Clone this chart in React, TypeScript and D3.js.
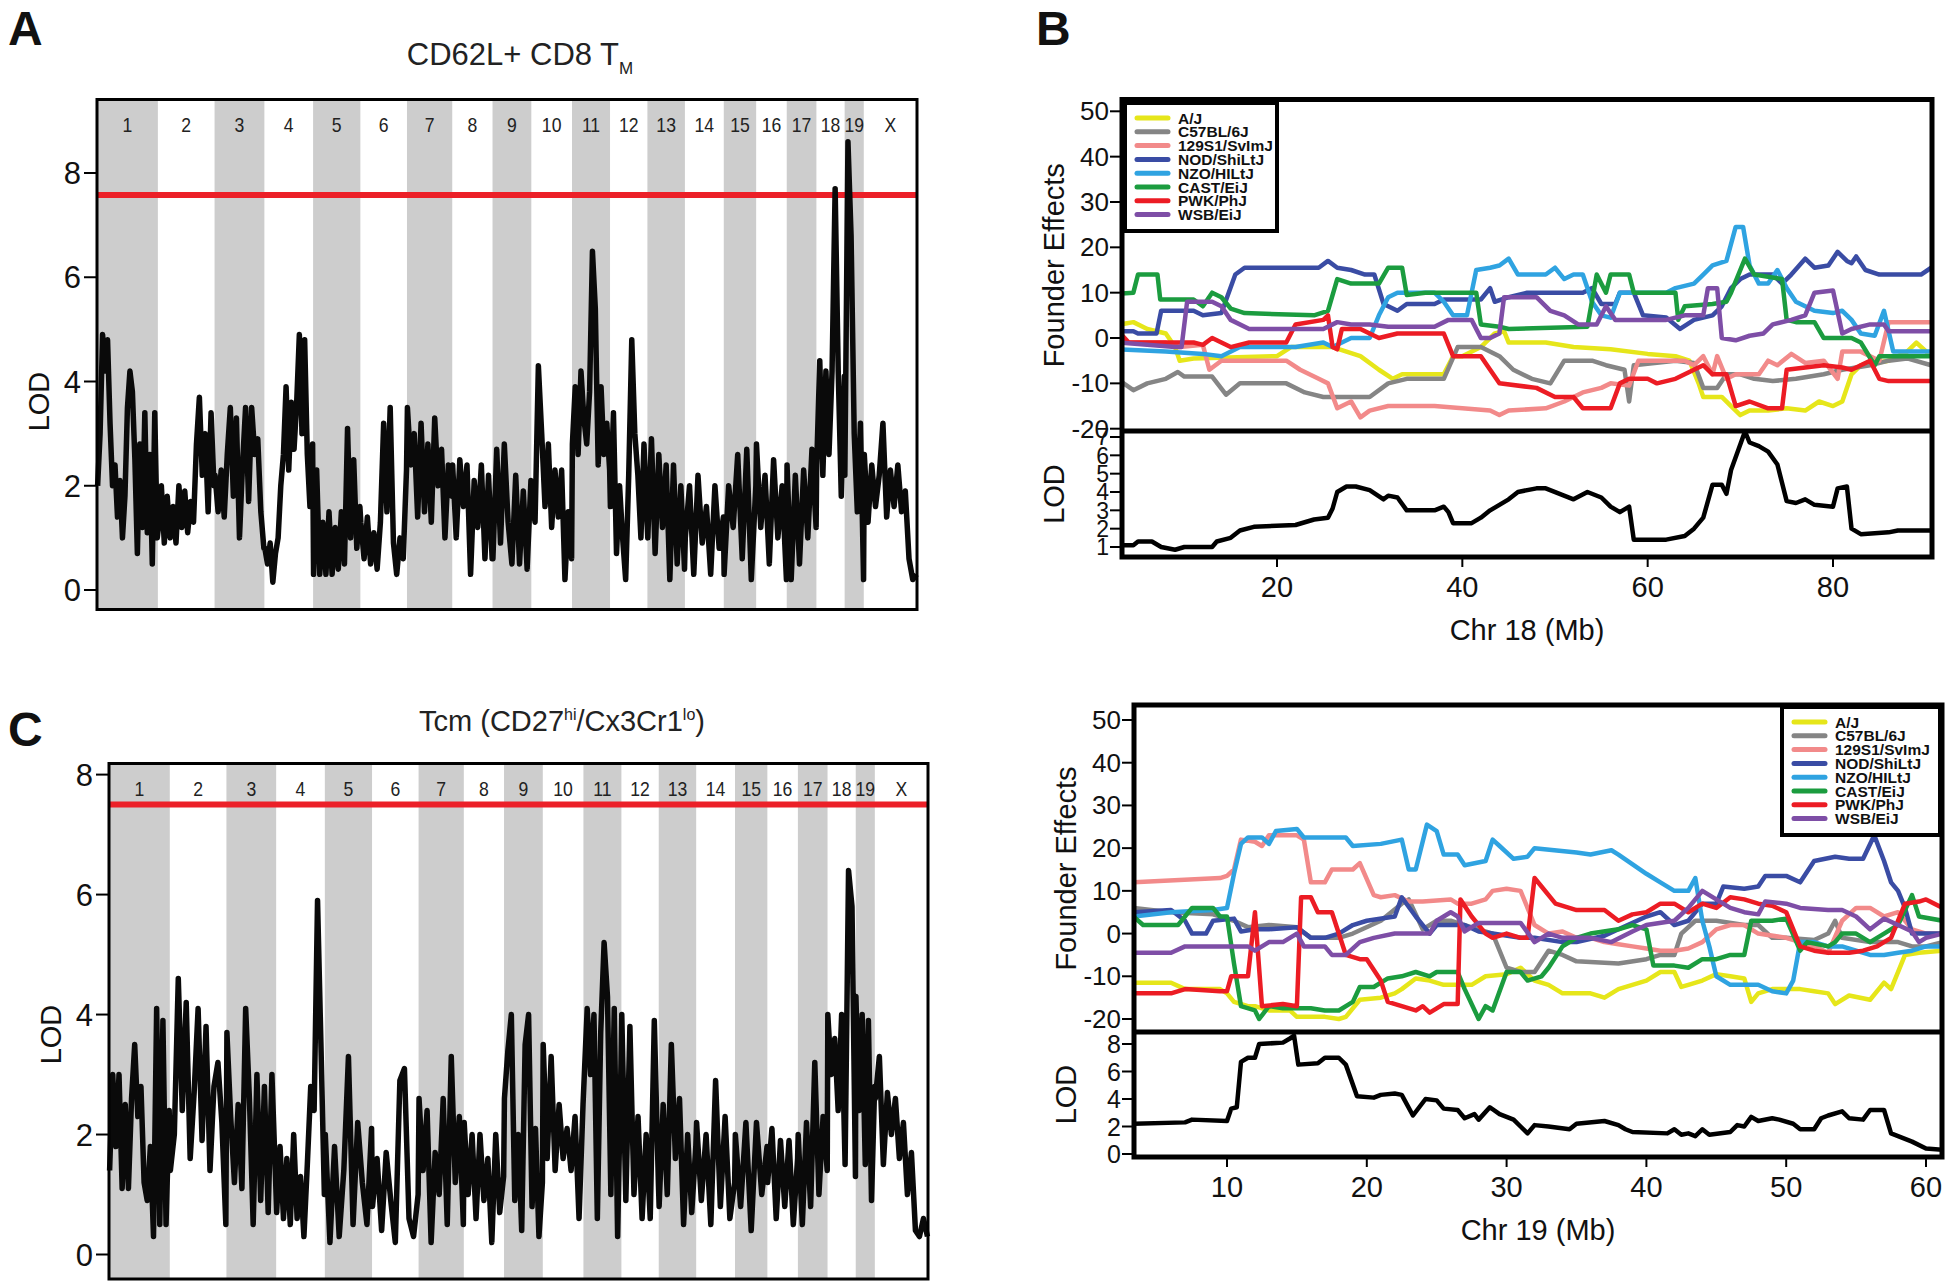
import React from 'react';
import * as d3 from 'd3';

// ---------- genome scans (A, C) ----------
const CHROMS = ['1','2','3','4','5','6','7','8','9','10','11','12','13','14','15','16','17','18','19','X'];
const CHROM_LEN = [195.5,182.1,160.0,156.5,151.8,149.7,145.4,129.4,124.6,130.7,122.1,120.1,120.4,124.9,104.0,98.2,95.3,90.7,61.4,171.0];
const LOD_TICKS = [0,2,4,6,8];

const LOD_A: number[][] = [
  [2.0,3.0,4.9,4.2,4.8,3.2,2.0,2.4,1.4,2.1,1.0,1.8,3.5,4.2,3.8,2.5,0.7,2.8,1.2,3.4,1.1,2.6,0.5,3.4,1.0],
  [1.2,2.0,0.9,1.8,1.0,1.6,0.9,2.0,1.2,1.9,1.1,1.7,1.3,2.8,3.7,2.2,3.0,1.5,3.4,2.0],
  [2.2,1.5,2.3,1.4,2.6,3.5,1.8,3.3,1.0,2.4,3.5,1.7,3.5,2.6,2.9,1.5,0.8],
  [0.8,0.5,0.9,0.15,0.7,1.0,2.0,2.6,3.9,2.3,3.6,2.7,3.6,4.9,3.0,4.8,2.6,1.6,2.8],
  [0.3,2.3,0.3,1.3,0.3,1.5,0.3,1.2,0.4,1.5,0.5,3.1,1.0,2.5,0.8,1.6],
  [1.3,0.6,1.4,0.5,1.1,0.4,1.3,3.2,1.5,3.5,0.9,0.3,1.0,0.6,2.3],
  [3.5,2.4,3.0,1.4,3.2,1.5,2.8,1.3,3.3,2.0,2.7,1.0,2.4,1.8],
  [2.4,1.0,2.5,1.6,2.4,0.3,2.1,1.2,2.4,0.6,2.2,0.6],
  [0.6,2.7,0.9,2.8,1.3,0.5,2.2,0.5,1.9,0.4,2.1],
  [1.8,1.3,4.3,3.0,1.6,2.8,1.2,2.3,1.4,2.3,0.2,1.5,0.6],
  [2.8,3.9,2.6,4.2,3.3,2.8,3.8,6.5,5.4,2.4,3.9,2.6,3.2,2.3],
  [1.6,3.4,0.7,2.0,1.0,0.2,2.2,4.8,3.0,2.2,1.0,2.8,1.3],
  [1.0,2.9,0.7,2.6,1.2,2.4,0.2,2.4,0.5,2.0,0.4],
  [1.0,2.0,0.3,2.2,0.9,1.6,0.3,2.0,0.8,1.4],
  [0.3,2.0,1.2,2.6,0.6,2.7,0.2,2.0],
  [2.8,1.2,2.2,0.5,2.5,1.0,2.0,0.2],
  [2.4,0.2,2.2,0.5,2.3,1.0,2.7,1.2],
  [2.4,4.4,2.2,4.2,2.6,4.2,7.7,4.2,1.8,4.1],
  [2.2,8.6,6.8,3.0,1.5,3.2,0.2],
  [2.6,1.3,2.4,1.6,2.2,3.2,1.4,2.3,1.6,2.4,1.5,1.9,0.6,0.2,0.3],
];

const LOD_C: number[][] = [
  [1.4,3.0,1.8,3.0,1.1,2.5,1.1,2.6,3.5,2.3,2.8,1.2,0.9,1.8,0.3,4.1,0.5,3.9,0.5,2.4],
  [1.4,2.0,4.6,2.4,4.2,1.6,2.7,4.1,1.9,3.8,1.4,2.8,3.2,2.2,0.5],
  [3.7,2.3,1.2,2.5,1.1,4.1,2.6,0.5,3.0,0.9,2.8,0.7,3.0,1.2],
  [0.7,1.8,0.6,1.6,0.5,2.0,0.6,1.3,0.3,1.5,2.8,2.4,5.9,3.5,1.0],
  [2.0,0.2,1.8,0.3,1.4,3.3,0.5,2.2,1.2,0.5,2.1],
  [0.8,1.6,0.4,1.7,0.9,0.2,2.9,3.1,0.6,0.3,1.0],
  [2.6,1.4,2.4,0.2,1.7,1.0,2.6,0.5,3.3,1.2,2.3,0.5],
  [2.2,1.0,2.0,0.6,2.0,0.9,1.6,0.2,2.0,0.7,1.3],
  [2.6,3.4,4.0,0.9,2.0,0.4,3.5,4.0,0.8,2.1,0.3,1.2],
  [3.5,1.6,3.3,1.4,2.5,1.6,2.1,1.4,2.3,0.6,2.5],
  [2.8,4.1,3.0,4.0,0.6,3.7,5.2,4.3,1.0,4.1,0.3,3.2],
  [4.0,0.9,3.8,1.0,2.3,0.6,2.0,0.6,3.9,1.2],
  [0.8,2.5,1.0,3.5,1.6,2.6,0.5,2.0,0.7,1.8],
  [2.2,0.9,2.0,0.5,2.9,0.8,2.3,0.6,1.2],
  [2.0,0.8,2.2,0.4,2.2,1.0,1.8],
  [1.2,2.1,0.6,1.9,0.8,1.9,0.5,1.6],
  [2.0,0.5,2.2,0.8,3.2,1.0,2.3,1.4],
  [4.0,3.0,3.6,2.4,4.0,1.5,6.4,5.8,1.3],
  [4.3,2.4,4.0,1.5,3.9,0.9,2.8],
  [2.6,3.3,1.5,2.7,2.0,2.6,1.6,2.2,1.0,1.7,0.4,0.3,0.6,0.3],
];
const THRESH_A = 7.58;
const THRESH_C = 7.5;

// ---------- founder effects (B) ----------
const FOUNDERS = ['A/J','C57BL/6J','129S1/SvImJ','NOD/ShiLtJ','NZO/HILtJ','CAST/EiJ','PWK/PhJ','WSB/EiJ'];
const FOUNDER_COLORS = ['#e6e61a','#858585','#f28a8a','#3a4ca4','#2fa3e1','#1b9c3f','#ec1c24','#7e4ea6'];
const FOUNDER_TICKS = [-20,-10,0,10,20,30,40,50];

type P = [number, number];

const CHR18_AJ: P[] = [[3.1,3],[4.5,3.5],[6,2],[8,1],[9,-2],[9.5,-5],[11,-4.5],[20,-4],[21.5,-2],[26,-2],[27.5,-3],[29,-4],[31,-7],[32.5,-9],[33.5,-8],[38,-8],[39,-4],[40,-4],[42,-2],[43.5,1],[44.5,1.5],[45,-1],[49,-1],[52,-2],[56,-2.5],[60,-3.5],[63,-4],[64.5,-5],[65.5,-10],[66,-13],[68,-13],[69,-15],[70,-17],[71,-16],[73,-16],[75,-15.5],[77,-16],[78.5,-14],[80,-15],[81,-14],[82,-8],[83,-6],[86,-5],[88,-3],[89,-1],[90.6,-4]];
const CHR18_B6: P[] = [[3.1,-9.5],[4.5,-11.5],[6,-10],[8,-9],[9.3,-7.5],[10,-8.5],[13,-8.5],[14.5,-12.5],[16,-10],[21,-10],[23,-12],[25,-13],[30,-13],[32,-10],[34,-9],[38,-9],[39.5,-2],[42,-2],[44,-4],[45.5,-7],[47.5,-9],[49.5,-10],[51,-5],[54,-5],[55.5,-6],[57.5,-7],[58,-14],[58.5,-6],[63,-5],[65,-5.5],[66,-11],[67.5,-11],[68.5,-8],[70,-8],[71.5,-9],[73.5,-9.5],[76,-9],[79,-8],[81,-7],[84,-6],[86,-5],[88,-4.5],[90.6,-6]];
const CHR18_129: P[] = [[3.1,-1],[8,-1],[9.5,-2],[12,-1.5],[12.7,-7],[14,-5],[18,-5],[21,-5],[22.5,-7],[24.5,-9],[25.5,-10],[26.5,-15.5],[28,-14],[29,-17.5],[30,-16],[32,-15],[37,-15],[43,-16],[44,-17],[45,-16],[49,-15.5],[51,-14],[53,-12],[55,-11],[56,-10],[58,-10.5],[59,-5],[64,-5],[65,-6],[66,-4],[67,-8],[67.5,-4],[68.5,-9],[69.5,-8],[72,-8],[73,-5],[74,-6],[75.5,-3.5],[77,-5.5],[79,-5],[80.5,-9],[81,-3],[83,-3],[85,-5],[86,3.5],[90.6,3.5]];
const CHR18_NOD: P[] = [[3.1,1.5],[4.5,1.5],[5,1],[7,1],[7.5,6],[11,6],[12,5],[14,5.5],[15.5,14],[16.5,15.5],[24.5,15.5],[25.5,17],[26.5,15.5],[28,15],[29.5,14],[30.5,14],[31.5,7.5],[33,6],[34,7.5],[37,7.5],[38,8.5],[42,8.5],[43,11],[43.5,8],[45,9],[47,10],[53,10],[54,11],[55,7.5],[56.5,7.5],[57,10],[58.5,10],[59.5,5],[62,4.5],[63.5,2],[65,4],[67,5],[68,7],[69,11],[70,13],[71,14],[73.5,14],[74.5,12],[75.5,14],[77,17.5],[78,15.5],[79.5,16],[80.5,19],[81.5,17],[82,16.5],[82.5,18],[83.5,15],[85,14],[89.5,14],[90.6,15.5]];
const CHR18_NZO: P[] = [[3.1,-2.5],[8,-3],[12,-3.5],[14,-4],[16,-2],[22,-2],[25,-1],[26,-2],[28,0],[30,0],[31,5],[32,9],[33,10],[37,10],[38,8],[39,5],[40.5,5],[41.5,15],[43,15.5],[44,16],[45,17.5],[46,14],[49,14],[50,15.5],[51,13],[52,14],[53,14],[54,8],[55,5],[56,4.5],[57,10],[62,10],[63,11],[65,12],[66,14],[67,16],[68.5,17],[69.5,24.5],[70.3,24.5],[71,16],[72,12],[73,12],[74,15],[75,11],[76,8],[78,6],[80,5.5],[81,6],[82,4],[83,1],[84.5,0.5],[85.5,6],[86.5,-3],[90.6,-3]];
const CHR18_CAST: P[] = [[3.1,9.8],[4.5,10],[5,14],[7.1,14],[7.4,8.5],[11,8.5],[12,7],[13,10],[14,9],[15,6.5],[16.5,5.5],[24,5],[25.5,6],[26.5,13],[28,12],[31,12],[32,15.5],[33.5,15.5],[34,9.5],[36,10],[41.5,10],[42,3],[44,2.5],[45,2],[53.5,2.5],[54.5,14],[55.5,10],[56,14],[58,14],[58.5,10],[63,10],[63.3,4],[64,7],[67,7.5],[68.5,8],[69,10],[70.5,17.5],[71.5,14],[74.5,13],[75,4],[76,3.5],[78,3.5],[79,0],[82,0],[83,-1],[84.5,-6],[85,-4],[90.6,-4]];
const CHR18_PWK: P[] = [[3.1,1],[4,-1],[8,-1],[11,-1],[12,-1.5],[13,0],[14,-1],[15,-2],[17,-1],[21,-1],[22,3],[25,4],[25.5,5],[26,-2],[26.5,-2.5],[27,2],[29,2],[31,0],[33,1],[38,1],[39,-4],[42,-4],[43,-7],[44,-10],[48,-11],[50,-13],[52,-13],[53,-15.5],[56,-15.5],[57,-10],[58,-9],[60,-9],[61,-10],[63,-9],[64,-8],[66,-6],[67,-8],[68.5,-8],[69.5,-15],[71,-14],[73,-15.5],[74.5,-15.5],[75,-7],[77,-6.5],[79,-6],[81,-6.5],[82,-7],[84,-5],[85,-9],[86,-9.5],[90.6,-9.5]];
const CHR18_WSB: P[] = [[3.1,-1],[6,-1.5],[9,-2],[9.7,-2],[10.3,8],[13,8],[14,7],[15,4],[17,2],[25,2],[26.5,3.5],[28,3],[30,3],[32,2.5],[37,2.5],[38.5,4],[41,4],[42,0],[43,0],[44,1],[44.5,9],[48,9],[49.5,6],[51,5],[52.5,3],[54.5,3],[55.5,7],[56.5,4],[62,4],[64,5],[66,5],[66.5,11],[67.5,11],[68,0],[69.5,-0.5],[71,0.5],[72.5,1],[73.5,3],[75.5,4],[77,5],[78,10],[80,10.5],[81,1],[82,2],[84,3],[85.5,3],[86,1.5],[90.6,1.5]];
const CHR18_LOD: P[] = [[3.1,1.1],[4.5,1.1],[5,1.3],[6.5,1.3],[7.5,1.0],[9,0.85],[10,1.0],[13,1.0],[13.5,1.3],[15,1.5],[16,1.9],[17.5,2.1],[22,2.2],[24,2.5],[25.5,2.6],[26,3.1],[26.5,4.0],[27.5,4.3],[28.5,4.3],[30,4.1],[31.5,3.6],[32,3.8],[33,3.7],[34,3.0],[37,3.0],[38,3.2],[38.5,2.9],[39,2.3],[41,2.3],[42,2.6],[43,3.0],[44,3.3],[45,3.6],[46,4.0],[48,4.2],[49,4.2],[52,3.6],[53.5,4.0],[55,3.7],[56,3.2],[57,2.9],[58,3.2],[58.5,1.4],[62,1.4],[64,1.6],[65,2.0],[66,2.6],[67,4.4],[68,4.4],[68.5,3.9],[69,5.2],[70.5,7.3],[71,6.7],[72,6.5],[73,6.2],[74,5.5],[75,3.5],[76,3.4],[77,3.6],[78,3.3],[80,3.2],[80.5,4.2],[81.5,4.3],[82,2.0],[83,1.7],[86,1.8],[87,1.9],[90.6,1.9]];

const CHR19_AJ: P[] = [[3.3,-11.5],[6,-11.5],[7,-13],[9.5,-13],[10,-14],[10.5,-16],[11.5,-17],[12,-17],[13,-18],[14.5,-18],[15,-19.5],[17,-19.5],[18,-20],[18.5,-19.5],[19.5,-15.5],[21,-15],[22,-14],[22.5,-13],[23.5,-10.5],[24.5,-11],[25.5,-12],[27.5,-12],[28.5,-10],[30,-9.5],[31,-8],[32,-11],[33,-12],[34,-14],[36,-14],[37,-15],[38,-13],[39,-12],[40,-11],[41,-9],[42,-9],[42.5,-12.5],[43,-12],[44,-11],[45,-9.5],[46,-10],[47,-10.5],[47.5,-16],[48,-14],[49,-13],[51,-13],[52,-13.5],[53,-14],[53.5,-16.5],[54.5,-14.5],[56,-15.5],[57,-11.5],[57.5,-13],[58.5,-5],[59.5,-4.5],[61.2,-4]];
const CHR19_B6: P[] = [[3.3,6],[6,5],[9,4.5],[10.5,3],[11.5,1.5],[13,2],[15,1.5],[16,-1],[18,-1],[19,0],[21,3],[22.5,7],[23,8],[24,1],[25,3],[26,3],[27,2],[28,1],[29,0],[30,-8],[31,-9],[32,-9],[33,-4],[34,-5],[35,-6.5],[38,-7],[40,-6],[41,-5],[42,-5],[42.5,0],[43.5,3],[45,3],[47,2],[48,2],[49,-1],[50,-1],[52,-1.5],[53,0],[53.5,3],[54,-1],[56,-2],[58,-2],[59,-3],[60,-3],[61.2,-2]];
const CHR19_129: P[] = [[3.3,12],[9.5,13],[10,13.5],[10.5,15],[11,22],[12,21.5],[12.5,20.5],[13,23],[15,23],[15.5,22],[16,12],[17,12],[17.5,15],[19,15],[19.5,16.5],[20.5,9],[21,8.5],[22,9],[23,7.5],[24,7.5],[26,8],[26.5,7],[27.5,7],[28.5,8],[29,10],[30,10.5],[31,10],[32,2],[33,0],[34,0.5],[35,-1],[36,-1],[37,-2],[38,-2.5],[39,-3],[40,-3.5],[41,-4],[42,-4],[43,-3.5],[44,-2],[45,1],[46,2],[47,2],[48,0],[50,-1],[51,-2],[52,-3],[53,-4.5],[54,3],[55,6],[56,6],[57,4],[58,5],[59,1],[60,0],[61.2,0]];
const CHR19_NOD: P[] = [[3.3,5],[6,5.5],[7,3],[7.5,0],[8.5,0],[9,3],[10.5,3.5],[11,0.5],[12,1],[13,1],[15,1.5],[16,-1],[17,-1],[18,0],[19,2],[20,3],[22,4],[22.5,8.5],[23.5,4],[24.5,0],[25,2],[27,2],[28,0.5],[29,0],[31,-1],[32,-1],[34,-2],[35,-2],[37,-0.5],[38,1],[40,4],[41,5],[42,2],[43,3],[44,7],[45,7],[45.5,11],[47,10.5],[48,11],[48.5,13.5],[50,13.5],[51,12],[52,17],[53.5,18],[54.5,17.5],[55.5,17.5],[56.3,23],[57,17],[57.5,12],[58,10],[58.5,6],[59,0],[61.2,0]];
const CHR19_NZO: P[] = [[3.3,4],[6,5],[9,5.5],[10,6],[10.5,14],[11,21],[11.5,22.5],[12.5,22.5],[13,21],[13.5,24],[15,24.5],[15.5,22.5],[18.5,22.5],[19,20.5],[21,21],[22.5,22],[23,15],[23.5,15],[24.3,25.5],[25,24],[25.5,18.5],[26.5,18.5],[27,16],[28.5,17],[29,22],[29.5,20.5],[30.5,17.5],[31.5,18],[32,20],[35,19],[36,18.5],[37.5,19.5],[38,18.5],[40,14],[41,12],[42,10],[43,10],[43.5,13],[44,3],[44.5,-3],[45,-10],[46,-12],[48,-12],[49,-13.5],[50,-14],[50.5,-11],[51,-2],[52,-2],[53,-3],[54,-3],[55,-4],[56,-5],[57,-5],[58,-4.5],[59,-4],[60,-3],[61.2,-3]];
const CHR19_CAST: P[] = [[3.3,4],[4,2],[6.5,2],[7.5,6],[9,6],[9.5,4],[10,4],[10.5,-7],[11,-17],[12,-18],[12.3,-20],[13,-17],[14,-17.5],[16,-17.5],[17,-18],[18,-18],[19,-16],[19.5,-12.5],[20.5,-12.5],[21.5,-10.5],[22.5,-10],[23.5,-9],[24.5,-10],[25,-9],[26.5,-9],[27,-13],[28,-20],[28.5,-17],[29,-18],[30,-9],[31,-9],[31.5,-11],[32.5,-10],[33,-8],[34,-3],[35,-1],[36,0],[38,1],[39,2],[40,1],[40.5,-7.5],[42,-7.5],[43,-8],[44,-6],[45,-6],[46,-5],[47,-5],[47.5,3],[49,3],[50,3.5],[51,-4],[51.5,-2],[53,-3],[53.5,-2],[54,0],[55,0],[56,-2],[57,0],[58,2],[59,9],[59.5,4],[61.2,3]];
const CHR19_PWK: P[] = [[3.3,-14],[6,-14],[7,-13],[9.5,-13.5],[10,-13.5],[10.3,-10],[11.5,-10],[12,5],[12.5,-17],[14,-16.5],[15,-17],[15.3,8.5],[16,8.5],[16.5,5],[17.5,5],[18,0],[18.5,-5],[19.5,-6],[20,-6],[21,-11],[21.5,-16],[22.5,-17],[23.5,-18],[24,-17],[24.5,-18.5],[25.5,-16.5],[26.5,-16.5],[26.7,8],[27.5,4],[28.5,0],[29,-1],[30,0],[31,-1],[31.5,-1],[32,13],[33.5,7],[35,5.5],[37,5.5],[38,3],[39,4.5],[40,5],[41,7],[42,7],[43,5],[44,7],[45,6],[46,8.5],[47,8],[48,7],[49,6.5],[50,5],[51,-3],[52,-4],[53,-4.5],[54.5,-4.5],[55.5,-4],[56.5,-3],[57.5,-1],[58.5,7],[59.5,7.5],[60,8],[61.2,6]];
const CHR19_WSB: P[] = [[3.3,-4.5],[6,-4.5],[7,-3],[9,-3],[11.5,-3],[12,-4],[13,-2],[14,-2],[15,0],[15.5,-3],[17,-3],[17.5,-5],[18.5,-5],[19.5,-2],[20.5,-1],[22,0],[24.5,0],[25,3],[26,5],[26.5,4],[27,0.5],[28,2.5],[31,2.5],[32,-2],[33,0],[34,-1],[36,-1],[37.5,-2],[39,0.5],[40,2],[42,3],[43,6],[44,10],[45,8],[46,6],[47,5],[48,4.5],[48.5,7.5],[50,7],[51,6],[53,5.5],[54,5.5],[55,4],[56,1],[57,3.5],[58,2],[59,0.5],[59.5,-2],[60,-1],[61.2,0]];
const CHR19_LOD: P[] = [[3.3,2.2],[7,2.3],[7.5,2.5],[10,2.4],[10.3,3.3],[10.7,3.4],[11,6.7],[11.5,7.0],[12,7.0],[12.3,8.0],[14,8.1],[14.5,8.4],[14.8,8.6],[15.1,6.5],[16.5,6.6],[17,7.0],[18,7.0],[18.5,6.5],[19.3,4.2],[20.5,4.1],[21,4.3],[22,4.4],[22.5,4.3],[23.3,2.8],[24.2,4.0],[25,3.9],[25.5,3.3],[26.5,3.2],[27,2.6],[27.7,2.9],[28,2.5],[28.8,3.4],[29.5,2.9],[30.5,2.5],[31,2.0],[31.5,1.5],[32,2.1],[33,2.0],[34.5,1.8],[35,2.2],[37,2.4],[38,2.1],[38.5,1.8],[39,1.6],[41.5,1.5],[42,1.8],[42.5,1.4],[43,1.5],[43.5,1.3],[44,1.8],[44.5,1.4],[46,1.6],[46.5,2.1],[47,2.0],[47.5,2.7],[48,2.4],[49,2.6],[49.5,2.5],[50.5,2.2],[51,1.8],[52,1.8],[52.5,2.6],[53,2.8],[54,3.1],[54.5,2.6],[55.5,2.5],[56,3.2],[57,3.2],[57.5,1.5],[58,1.3],[59,0.9],[60,0.4],[61.2,0.3]];

const CHR18_SERIES = [CHR18_AJ, CHR18_B6, CHR18_129, CHR18_NOD, CHR18_NZO, CHR18_CAST, CHR18_PWK, CHR18_WSB];
const CHR19_SERIES = [CHR19_AJ, CHR19_B6, CHR19_129, CHR19_NOD, CHR19_NZO, CHR19_CAST, CHR19_PWK, CHR19_WSB];
const CHR18_X_TICKS = [20,40,60,80];
const CHR19_X_TICKS = [10,20,30,40,50,60];
const CHR18_LOD_TICKS = [1,2,3,4,5,6,7];
const CHR19_LOD_TICKS = [0,2,4,6,8];

const FONT = '"Liberation Sans", Arial, sans-serif';

type ScanProps = { left: number; right: number; top: number; bottom: number; y0: number; y8: number; values: number[][]; thresh: number; };

function GenomeScan({ left, right, top, bottom, y0, y8, values, thresh }: ScanProps) {
  const total = d3.sum(CHROM_LEN);
  const starts = CHROM_LEN.map((_, i) => d3.sum(CHROM_LEN.slice(0, i)));
  const x = d3.scaleLinear().domain([0, total]).range([left, right]);
  const y = d3.scaleLinear().domain([0, 8]).range([y0, y8]);
  const pts: [number, number][] = [];
  values.forEach((vals, c) => {
    const n = vals.length;
    vals.forEach((v, i) => {
      pts.push([starts[c] + CHROM_LEN[c] * (0.01 + 0.98 * i / (n - 1)), v]);
    });
  });
  const line = d3.line<[number, number]>().x(d => x(d[0])).y(d => y(d[1]));
  return (
    <g>
      {CHROMS.map((c, i) => (
        <g key={c}>
          {i % 2 === 0 && (
            <rect x={x(starts[i])} y={top} width={x(starts[i] + CHROM_LEN[i]) - x(starts[i])} height={bottom - top} fill="#cdcdcd" />
          )}
          <text x={(x(starts[i]) + x(starts[i] + CHROM_LEN[i])) / 2} y={top + 33} textAnchor="middle" fontSize={20} fontFamily={FONT} fill="#222" transform={`translate(${((x(starts[i]) + x(starts[i] + CHROM_LEN[i])) / 2) * 0.12},0) scale(0.88,1)`}>{c}</text>
        </g>
      ))}
      <line x1={left} x2={right} y1={y(thresh)} y2={y(thresh)} stroke="#ec2028" strokeWidth={6} />
      <path d={line(pts) || ''} fill="none" stroke="#0a0a0a" strokeWidth={5.5} strokeLinejoin="round" />
      <rect x={left} y={top} width={right - left} height={bottom - top} fill="none" stroke="#000" strokeWidth={3} />
      {LOD_TICKS.map(t => (
        <g key={t}>
          <line x1={left - 13} x2={left} y1={y(t)} y2={y(t)} stroke="#000" strokeWidth={2} />
          <text x={left - 16} y={y(t) + 11} textAnchor="end" fontSize={31} fontFamily={FONT} fill="#111">{t}</text>
        </g>
      ))}
      <text transform={`translate(${left - 48},${(y(0) + y(8)) / 2 + 20}) rotate(-90)`} textAnchor="middle" fontSize={29} fontFamily={FONT} fill="#111">LOD</text>
    </g>
  );
}

type FounderProps = {
  left: number; right: number; top: number; mid: number; bottom: number;
  xd: [number, number]; xr: [number, number];
  fy: [number, number]; ly: [number, number]; lyd: [number, number];
  series: P[][]; lod: P[]; xTicks: number[]; lodTicks: number[]; lodFont: number;
  legendX: number; legendY: number; legendW: number; legendH: number;
  xLabel: string; clipId: string;
};

function FounderPanel(p: FounderProps) {
  const x = d3.scaleLinear().domain(p.xd).range(p.xr);
  const yF = d3.scaleLinear().domain([-20, 50]).range(p.fy);
  const yL = d3.scaleLinear().domain(p.lyd).range(p.ly);
  const lineF = d3.line<P>().x(d => x(d[0])).y(d => yF(d[1]));
  const lineL = d3.line<P>().x(d => x(d[0])).y(d => yL(d[1]));
  return (
    <g>
      <defs>
        <clipPath id={p.clipId + 'f'}><rect x={p.left} y={p.top} width={p.right - p.left} height={p.mid - p.top} /></clipPath>
        <clipPath id={p.clipId + 'l'}><rect x={p.left} y={p.mid} width={p.right - p.left} height={p.bottom - p.mid} /></clipPath>
      </defs>
      <g clipPath={`url(#${p.clipId}f)`}>
        {p.series.map((s, i) => (
          <path key={i} d={lineF(s) || ''} fill="none" stroke={FOUNDER_COLORS[i]} strokeWidth={4.5} strokeLinejoin="round" />
        ))}
      </g>
      <g clipPath={`url(#${p.clipId}l)`}>
        <path d={lineL(p.lod) || ''} fill="none" stroke="#000" strokeWidth={4.5} strokeLinejoin="round" />
      </g>
      {/* legend */}
      <rect x={p.legendX} y={p.legendY} width={p.legendW} height={p.legendH} fill="#fff" stroke="#000" strokeWidth={4} />
      {FOUNDERS.map((f, i) => {
        const yy = p.legendY + 15 + i * 13.8;
        return (
          <g key={f}>
            <line x1={p.legendX + 12} x2={p.legendX + 43} y1={yy} y2={yy} stroke={FOUNDER_COLORS[i]} strokeWidth={5} strokeLinecap="round" />
            <text x={p.legendX + 53} y={yy + 5.5} fontSize={15.5} fontWeight="bold" fontFamily={FONT} fill="#111">{f}</text>
          </g>
        );
      })}
      {/* frames */}
      <rect x={p.left} y={p.top} width={p.right - p.left} height={p.bottom - p.top} fill="none" stroke="#000" strokeWidth={5} />
      <line x1={p.left} x2={p.right} y1={p.mid} y2={p.mid} stroke="#000" strokeWidth={5} />
      {/* y ticks founder */}
      {FOUNDER_TICKS.map(t => (
        <g key={t}>
          <line x1={p.left - 12} x2={p.left} y1={yF(t)} y2={yF(t)} stroke="#000" strokeWidth={2} />
          <text x={p.left - 13} y={yF(t) + 9} textAnchor="end" fontSize={26} fontFamily={FONT} fill="#111">{t}</text>
        </g>
      ))}
      {p.lodTicks.map(t => (
        <g key={t}>
          <line x1={p.left - 12} x2={p.left} y1={yL(t)} y2={yL(t)} stroke="#000" strokeWidth={2} />
          <text x={p.left - 13} y={yL(t) + p.lodFont * 0.36} textAnchor="end" fontSize={p.lodFont} fontFamily={FONT} fill="#111">{t}</text>
        </g>
      ))}
      {p.xTicks.map(t => (
        <g key={t}>
          <line x1={x(t)} x2={x(t)} y1={p.bottom} y2={p.bottom + 10} stroke="#000" strokeWidth={2} />
          <text x={x(t)} y={p.bottom + 40} textAnchor="middle" fontSize={29} fontFamily={FONT} fill="#111">{t}</text>
        </g>
      ))}
      <text x={(p.left + p.right) / 2} y={p.bottom + 83} textAnchor="middle" fontSize={29} fontFamily={FONT} fill="#111">{p.xLabel}</text>
      <text transform={`translate(${p.left - 58},${(p.top + p.mid) / 2}) rotate(-90)`} textAnchor="middle" fontSize={29} fontFamily={FONT} fill="#111">Founder Effects</text>
      <text transform={`translate(${p.left - 58},${(p.mid + p.bottom) / 2}) rotate(-90)`} textAnchor="middle" fontSize={29} fontFamily={FONT} fill="#111">LOD</text>
    </g>
  );
}

export default function App() {
  return (
    <svg width={1950} height={1283} viewBox="0 0 1950 1283" style={{ position: 'absolute', left: 0, top: 0, background: '#fff' }}>
      <rect x={0} y={0} width={1950} height={1283} fill="#fff" />
      {/* Panel labels */}
      <text x={8} y={45} fontSize={48} fontWeight="bold" fontFamily={FONT} fill="#111">A</text>
      <text x={1036} y={45} fontSize={48} fontWeight="bold" fontFamily={FONT} fill="#111">B</text>
      <text x={8} y={746} fontSize={48} fontWeight="bold" fontFamily={FONT} fill="#111">C</text>

      <text x={520} y={65} textAnchor="middle" fontSize={31} fontFamily={FONT} fill="#222">
        CD62L+ CD8 T<tspan dy={9} fontSize={17}>M</tspan>
      </text>
      <text x={562} y={731} textAnchor="middle" fontSize={29} fontFamily={FONT} fill="#222">
        Tcm (CD27<tspan dy={-11} fontSize={16}>hi</tspan><tspan dy={11}>/Cx3Cr1</tspan><tspan dy={-11} fontSize={16}>lo</tspan><tspan dy={11}>)</tspan>
      </text>

      <GenomeScan left={97} right={917} top={99.5} bottom={609.5} y0={590} y8={173} values={LOD_A} thresh={THRESH_A} />
      <GenomeScan left={109} right={928} top={763.5} bottom={1279} y0={1254.5} y8={774.6} values={LOD_C} thresh={THRESH_C} />

      <FounderPanel left={1122} right={1932} top={99.5} mid={431} bottom={557}
        xd={[20, 80]} xr={[1277, 1833]} fy={[428.7, 111.3]} ly={[547, 437]} lyd={[1, 7]}
        series={CHR18_SERIES} lod={CHR18_LOD} xTicks={CHR18_X_TICKS} lodTicks={CHR18_LOD_TICKS} lodFont={23}
        legendX={1125} legendY={103} legendW={152} legendH={128} xLabel="Chr 18 (Mb)" clipId="c18" />
      <FounderPanel left={1134} right={1942} top={705} mid={1032} bottom={1157}
        xd={[10, 60]} xr={[1227, 1926]} fy={[1019, 720]} ly={[1154, 1044]} lyd={[0, 8]}
        series={CHR19_SERIES} lod={CHR19_LOD} xTicks={CHR19_X_TICKS} lodTicks={CHR19_LOD_TICKS} lodFont={25}
        legendX={1782} legendY={707} legendW={158} legendH={128} xLabel="Chr 19 (Mb)" clipId="c19" />
    </svg>
  );
}
